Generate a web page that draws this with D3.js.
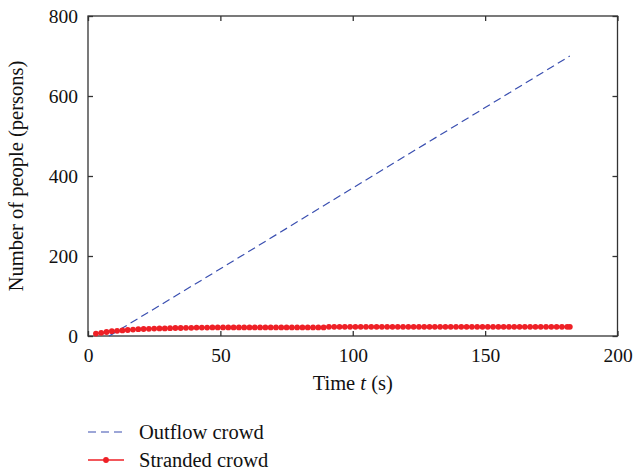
<!DOCTYPE html>
<html><head><meta charset="utf-8">
<script src="https://cdn.jsdelivr.net/npm/d3@7"></script>
<style>
html,body{margin:0;padding:0;background:#fff;}
text{font-family:"Liberation Serif","DejaVu Serif",serif;fill:#111;}
</style></head>
<body><svg id="c" width="633" height="472"></svg>
<script>
const outflowT = [8, 50, 100, 150, 182];
const outflowV = [0, 168, 370, 571, 700];
const strandedT = [3,5,7,9,11,13,15,17,19,21,23,25,27,29,31,33,35,37,39,41,43,45,47,49,51,53,55,57,59,61,63,65,67,69,71,73,75,77,79,81,83,85,87,89,91,93,95,97,99,101,103,105,107,109,111,113,115,117,119,121,123,125,127,129,131,133,135,137,139,141,143,145,147,149,151,153,155,157,159,161,163,165,167,169,171,173,175,177,179,181,182];
const strandedV = [6,8,10,12,13,14,15,16,17,17.5,18,18.5,19,19,19.5,20,20,20.5,20.5,21,21,21,21.5,21.5,21.5,21.5,21.5,21.5,21.5,21.5,21.5,21.5,21.5,21.5,21.5,21.5,21.5,21.5,21.5,21.5,21.5,21.5,21.5,21.5,23,23,23,23,23,23,23,23,23,23,23,23,23,23,23,23,23,23,23,23,23,23,23,23,23,23,23,23,23,23,23,23,23,23,23,23,23,23,23,23,23,23,23,23,23,23,23];
const xTicks = [0, 50, 100, 150, 200];
const yTicks = [0, 200, 400, 600, 800];
const seriesNames = ["Outflow crowd", "Stranded crowd"];

const svg = d3.select("#c");
const L = 88, R = 617.5, T = 16, B = 336;
const x = d3.scaleLinear().domain([0, 200]).range([L, R]);
const y = d3.scaleLinear().domain([0, 800]).range([B, T]);
const blue = "#3a4fb0", red = "#ee2026";
const fs = 19.5, fl = 20.5;

// frame
svg.append("rect").attr("x", L).attr("y", T).attr("width", R - L).attr("height", B - T)
  .attr("fill", "none").attr("stroke", "#333").attr("stroke-width", 1.3);

// axes with inward ticks
const gx = svg.append("g").attr("transform", `translate(0,${B})`)
  .call(d3.axisBottom(x).tickValues(xTicks).tickSize(-5).tickPadding(12).tickFormat(d3.format("d")));
const gxt = svg.append("g").attr("transform", `translate(0,${T})`)
  .call(d3.axisTop(x).tickValues(xTicks).tickSize(-5).tickFormat(""));
const gy = svg.append("g").attr("transform", `translate(${L},0)`)
  .call(d3.axisLeft(y).tickValues(yTicks).tickSize(-5).tickPadding(10).tickFormat(d3.format("d")));
const gyr = svg.append("g").attr("transform", `translate(${R},0)`)
  .call(d3.axisRight(y).tickValues(yTicks).tickSize(-5).tickFormat(""));
[gx, gxt, gy, gyr].forEach(g => {
  g.select(".domain").remove();
  g.selectAll("line").attr("stroke", "#333").attr("stroke-width", 1.3);
  g.selectAll("text").attr("font-size", fs).attr("font-family", "Liberation Serif").attr("fill", "#111");
});

// outflow dashed line
const line = d3.line().x(d => x(d[0])).y(d => y(d[1]));
svg.append("path").datum(outflowT.map((t, i) => [t, outflowV[i]]))
  .attr("d", line).attr("fill", "none").attr("stroke", blue).attr("stroke-width", 1.2)
  .attr("stroke-dasharray", "8,4.5");

// stranded
const sd = strandedT.map((t, i) => [t, strandedV[i]]);
svg.append("path").datum(sd).attr("d", line).attr("fill", "none").attr("stroke", red).attr("stroke-width", 1.5);
svg.append("g").selectAll("circle").data(sd).join("circle")
  .attr("cx", d => x(d[0])).attr("cy", d => y(d[1])).attr("r", 2.9).attr("fill", red);

// axis labels
const xl = svg.append("text").attr("x", (L + R) / 2).attr("y", 390).attr("text-anchor", "middle").attr("font-size", fl);
xl.append("tspan").text("Time ");
xl.append("tspan").attr("font-style", "italic").text("t");
xl.append("tspan").text(" (s)");
svg.append("text").attr("transform", `translate(23,${(T + B) / 2}) rotate(-90)`)
  .attr("text-anchor", "middle").attr("font-size", fl).text("Number of people (persons)");

// legend
const lg = svg.append("g");
lg.append("line").attr("x1", 88).attr("x2", 124).attr("y1", 432).attr("y2", 432)
  .attr("stroke", blue).attr("stroke-width", 1.2).attr("stroke-dasharray", "8,5");
lg.append("text").attr("x", 139).attr("y", 439).attr("font-size", fl).text(seriesNames[0]);
lg.append("line").attr("x1", 88).attr("x2", 124).attr("y1", 460).attr("y2", 460)
  .attr("stroke", red).attr("stroke-width", 1.5);
lg.append("circle").attr("cx", 106).attr("cy", 460).attr("r", 2.9).attr("fill", red);
lg.append("text").attr("x", 139).attr("y", 467).attr("font-size", fl).text(seriesNames[1]);
</script></body></html>
